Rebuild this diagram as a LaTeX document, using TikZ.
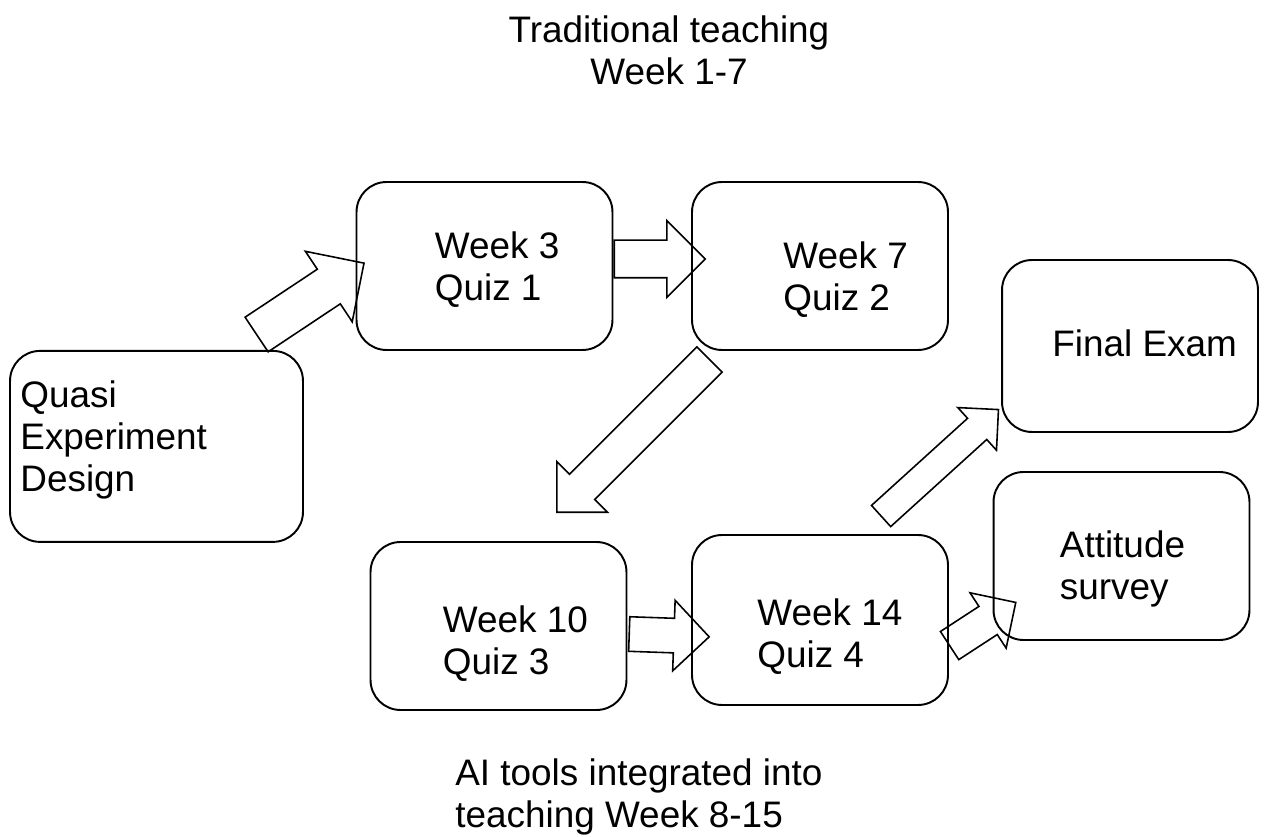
\documentclass[tikz,border=0pt]{standalone}
\usepackage{fontspec}
\setmainfont{Liberation Sans}
\usetikzlibrary{shapes,arrows,positioning,calc}
\definecolor{outline}{RGB}{0,0,0}

\begin{document}
\begin{tikzpicture}[x=0.02cm, y=-0.02cm,
    card/.style={draw=outline, line width=1.1pt, rounded corners=0.6cm,
                 minimum width=5.12cm, minimum height=3.36cm, inner sep=0pt},
    cardtext/.style={anchor=north west, align=left, inner sep=0pt,
                     font=\fontsize{21pt}{24pt}\selectfont},
    heading/.style={anchor=north, align=center, inner sep=0pt,
                    font=\fontsize{21pt}{24pt}\selectfont},
    blockarrow/.style n args={4}{draw=outline, line width=0.9pt, shape=single arrow,
                 single arrow head extend=#2, single arrow tip angle=90,
                 inner xsep=0pt, inner ysep=#3, minimum height=#1,
                 anchor=tail, rotate=#4}
]
\useasboundingbox (0,0) rectangle (1265,837);

% Boxes of the study design
\node[card, minimum width=5.86cm, minimum height=3.82cm] (design) at (156.5,446.4) {};
\node[card] (wk3) at (484.5,266) {};
\node[card] (wk7) at (820,266) {};
\node[card, minimum height=3.44cm] (final) at (1130,346) {};
\node[card] (survey) at (1121.5,556) {};
\node[card] (wk10) at (498.5,626) {};
\node[card, minimum height=3.40cm] (wk14) at (820,620) {};

% Text in the boxes
\node[cardtext] (design-txt) at ($(design.north west)+(11,30)$) {Quasi\\Experiment\\Design};
\node[cardtext] (wk3-txt) at ($(wk3.north west)+(79,50)$) {Week 3\\Quiz 1};
\node[cardtext] (wk7-txt) at ($(wk7.north west)+(92,60)$) {Week 7\\Quiz 2};
\node[cardtext] (final-txt) at ($(final.north west)+(51,70)$) {Final Exam};
\node[cardtext] (survey-txt) at ($(survey.north west)+(67,59)$) {Attitude\\survey};
\node[cardtext] (wk10-txt) at ($(wk10.north west)+(73,64)$) {Week 10\\Quiz 3};
\node[cardtext] (wk14-txt) at ($(wk14.north west)+(66,64)$) {Week 14\\Quiz 4};

% Phase captions
\node[heading] (trad) at (669,15) {Traditional teaching\\Week 1-7};
\node[cardtext] (ai) at (455,758) {AI tools integrated into\\teaching Week 8-15};

% Block arrows between the boxes
\node[blockarrow={2.58cm}{0.43cm}{0.40cm}{33.6}] (a1) at ($(design.north east)+(-48,-15)$) {};
\node[blockarrow={1.82cm}{0.39cm}{0.36cm}{0}] (a2) at ($(wk3.east)+(0,-7)$) {};
\node[blockarrow={4.32cm}{0.36cm}{0.34cm}{225}] (a3) at ($(wk7.south west)+(19,8)$) {};
\node[blockarrow={1.60cm}{0.36cm}{0.33cm}{-2}] (a4) at ($(wk10.east)+(1,8)$) {};
\node[blockarrow={3.17cm}{0.29cm}{0.27cm}{42.2}] (a5) at ($(wk14.north)+(60.5,-17.5)$) {};
\node[blockarrow={1.58cm}{0.325cm}{0.32cm}{33.1}] (a6) at ($(wk14.east)+(0,26)$) {};

\end{tikzpicture}
\end{document}
